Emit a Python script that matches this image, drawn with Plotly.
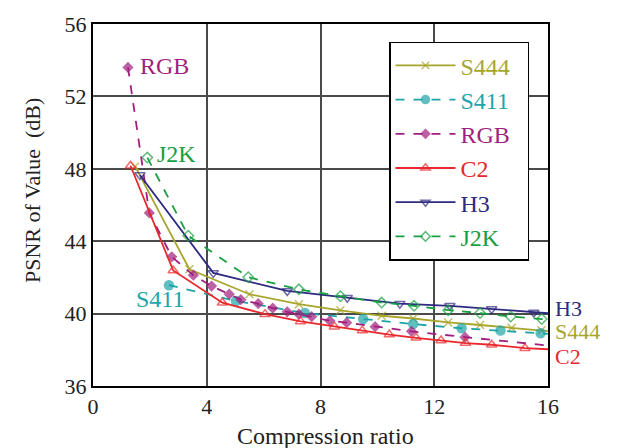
import plotly.graph_objects as go

# ---------------- data ----------------
s444_x = [1.48, 3.39, 5.50, 7.24, 8.70, 10.15, 11.26, 12.49, 13.61, 14.72, 15.77, 16.0]
s444_y = [48.13, 42.45, 41.07, 40.52, 40.18, 39.88, 39.73, 39.51, 39.37, 39.21, 39.08, 39.03]

s411_x = [2.67, 5.03, 7.45, 9.50, 11.26, 12.96, 14.33, 15.74, 16.0]
s411_y = [41.57, 40.70, 40.03, 39.70, 39.42, 39.19, 39.06, 38.91, 38.88]

rgb_x = [1.23, 1.98, 2.77, 3.53, 4.17, 4.79, 5.20, 5.81, 6.32, 6.83, 7.24, 7.69,
         8.33, 8.92, 9.92, 11.20, 13.08, 16.0]
rgb_y = [53.60, 45.56, 43.14, 42.12, 41.52, 41.07, 40.77, 40.55, 40.30, 40.10, 39.97,
         39.83, 39.60, 39.50, 39.28, 39.02, 38.70, 38.24]

c2_x = [1.32, 2.82, 4.55, 6.05, 7.30, 8.49, 9.47, 10.42, 11.36, 12.24, 13.10, 14.02, 15.19, 16.0]
c2_y = [48.17, 42.38, 40.60, 39.97, 39.57, 39.28, 39.06, 38.84, 38.66, 38.51, 38.37, 38.28, 38.09, 38.03]

h3_x = [1.65, 4.23, 6.83, 8.94, 10.79, 12.55, 14.02, 15.50, 16.0]
h3_y = [47.66, 42.25, 41.25, 40.88, 40.55, 40.43, 40.25, 40.06, 40.02]

j2k_x = [1.91, 3.35, 5.46, 7.24, 8.70, 10.15, 11.29, 12.49, 13.61, 14.69, 15.78, 16.0]
j2k_y = [48.62, 44.30, 42.01, 41.34, 40.96, 40.61, 40.43, 40.19, 40.03, 39.84, 39.70, 39.67]

series_names = ["S444", "S411", "RGB", "C2", "H3", "J2K"]
x_ticks = [0, 4, 8, 12, 16]
y_ticks = [36, 40, 44, 48, 52, 56]

FONT = "Liberation Serif, Times New Roman, serif"

colors = {
    "S444": "#a8a52c",
    "S411": "#1ea4a8",
    "RGB": "#a01f7e",
    "C2": "#e8282c",
    "H3": "#2d2a80",
    "J2K": "#18a042",
}

styles = {
    "S444": dict(dash="solid", symbol="x-thin", size=8, lw=1.8),
    "S411": dict(dash="dash", symbol="circle", size=9, lw=1.8),
    "RGB": dict(dash="dash", symbol="diamond", size=7, lw=1.8),
    "C2": dict(dash="solid", symbol="triangle-up-open", size=9, lw=1.8),
    "H3": dict(dash="solid", symbol="triangle-down-open", size=9, lw=1.8),
    "J2K": dict(dash="dash", symbol="diamond-open", size=8, lw=1.8),
}

data = {
    "S444": (s444_x, s444_y),
    "S411": (s411_x, s411_y),
    "RGB": (rgb_x, rgb_y),
    "C2": (c2_x, c2_y),
    "H3": (h3_x, h3_y),
    "J2K": (j2k_x, j2k_y),
}

PAD = "&nbsp;" * 2

fig = go.Figure()
for i, name in enumerate(series_names):
    xs, ys = data[name]
    st = styles[name]
    col = colors[name]
    sizes = [st["size"]] * (len(xs) - 1) + [0]  # last point is the line's exit at the frame
    mk = dict(symbol=st["symbol"], size=sizes, color=col,
              line=dict(color=col, width=1.5))
    fig.add_trace(go.Scatter(
        x=xs, y=ys, mode="lines+markers",
        name=f'<span style="color:{col}">{name}</span>{PAD}',
        legendgroup=name,
        line=dict(color=col, width=st["lw"], dash=st["dash"]),
        marker=mk,
    ))

# in-plot labels
labels = [
    ("RGB", 2.53, 53.7),
    ("J2K", 2.95, 48.84),
    ("S411", 2.36, 40.81),
]
for txt, x, y in labels:
    fig.add_annotation(x=x, y=y, xref="x", yref="y", text=txt, showarrow=False,
                       xanchor="center", yanchor="middle",
                       font=dict(family=FONT, size=24, color=colors[txt]))
right_labels = [("H3", 40.3), ("S444", 39.0), ("C2", 37.65)]
for txt, y in right_labels:
    fig.add_annotation(x=1.012, y=y, xref="paper", yref="y", text=txt, showarrow=False,
                       xanchor="left", yanchor="middle",
                       font=dict(family=FONT, size=22, color=colors[txt]))

# axis titles
fig.add_annotation(x=0.51, y=-0.139, xref="paper", yref="paper", text="Compression ratio",
                   showarrow=False, xanchor="center", yanchor="middle",
                   font=dict(family=FONT, size=24, color="#222"))
fig.add_annotation(x=-0.133, y=0.54, xref="paper", yref="paper", text="PSNR of Value  (dB)",
                   showarrow=False, xanchor="center", yanchor="middle", textangle=-90,
                   font=dict(family=FONT, size=22, color="#222"))

# legend drop shadow (legend box is drawn on top of it)
fig.add_shape(type="rect", xref="paper", yref="paper",
              x0=(392 - 93) / 455, x1=(528 - 93) / 455,
              y0=(386 - 258) / 366, y1=(386 - 43) / 366,
              fillcolor="black", line=dict(width=0), layer="above")

fig.update_layout(
    width=621, height=448,
    margin=dict(l=93, r=73, t=20, b=62),
    paper_bgcolor="white", plot_bgcolor="white",
    font=dict(family=FONT, size=22, color="#222"),
    showlegend=True,
    legend=dict(x=(389 - 93) / 455, y=(386 - 38) / 366, xanchor="left", yanchor="top",
                bgcolor="white", bordercolor="black", borderwidth=1.5,
                font=dict(family=FONT, size=24),
                tracegroupgap=0, itemwidth=60),
    xaxis=dict(range=[0, 16], tickmode="array", tickvals=x_ticks,
               ticktext=[str(t) for t in x_ticks],
               showgrid=True, gridcolor="#4a4a4a", gridwidth=1.5,
               showline=True, linecolor="black", linewidth=2, mirror=True,
               ticks="", zeroline=False, tickfont=dict(size=22)),
    yaxis=dict(range=[36, 56], tickmode="array", tickvals=y_ticks,
               ticktext=[str(t) for t in y_ticks],
               showgrid=True, gridcolor="#4a4a4a", gridwidth=1.5,
               showline=True, linecolor="black", linewidth=2, mirror=True,
               ticks="", zeroline=False, tickfont=dict(size=22)),
)

fig.write_html("out.html")
